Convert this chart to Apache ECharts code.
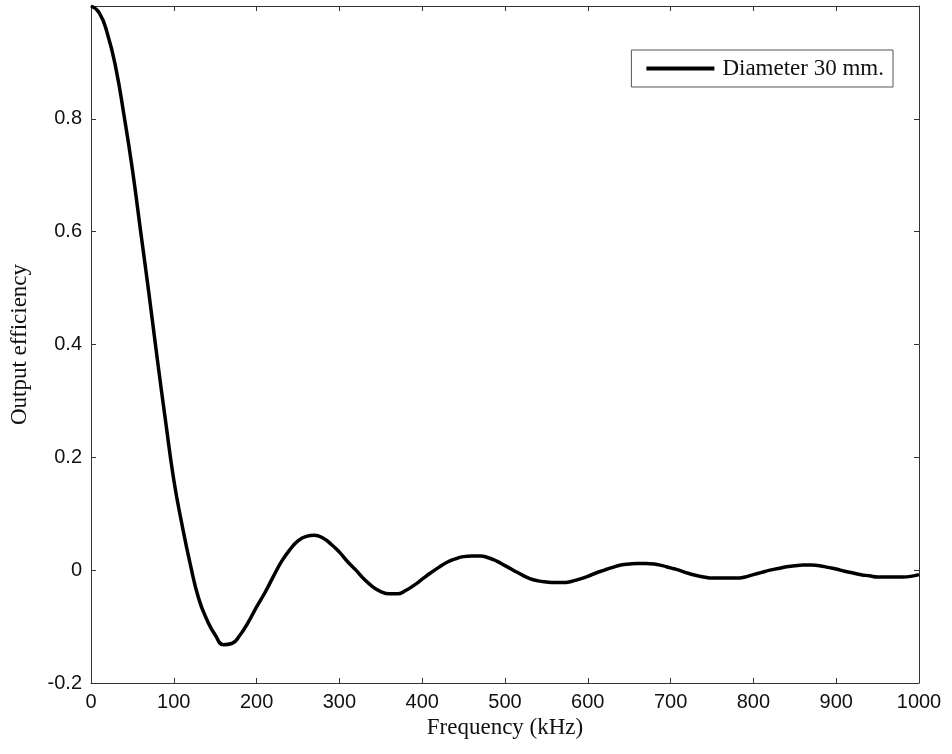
<!DOCTYPE html>
<html>

<head>
  <meta charset="utf-8" />
  <style>
    html, body { margin: 0; padding: 0; background: #fff; }
    #chart { width: 952px; height: 754px; }
  </style>
  <script src="https://cdn.jsdelivr.net/npm/echarts@6/dist/echarts.min.js"></script>
</head>

<body>
  <div id="chart"></div>
  <script type="text/javascript">
    // frequency in kHz, read every 10 kHz
    const freqKHz = [];
    for (let f = 0; f <= 1000; f += 10) freqKHz.push(f);

    const efficiency = [
      1.0, 0.988, 0.95, 0.89, 0.805, 0.71, 0.60, 0.49, 0.375, 0.265,
      0.16, 0.08, 0.01, -0.05, -0.088, -0.115, -0.132, -0.13, -0.115, -0.092,
      -0.065, -0.04, -0.012, 0.015, 0.036, 0.052, 0.06, 0.062, 0.057, 0.046,
      0.032, 0.015, 0.0, -0.016, -0.029, -0.038, -0.042, -0.042, -0.036, -0.027,
      -0.016, -0.005, 0.005, 0.014, 0.02, 0.024, 0.025, 0.025, 0.022, 0.016,
      0.008, 0.0, -0.008, -0.015, -0.019, -0.021, -0.022, -0.022, -0.02, -0.016,
      -0.011, -0.005, 0.0, 0.005, 0.009, 0.011, 0.012, 0.012, 0.011, 0.008,
      0.004, 0.0, -0.005, -0.009, -0.012, -0.014, -0.014, -0.014, -0.014, -0.012,
      -0.008, -0.004, 0.0, 0.003, 0.006, 0.008, 0.009, 0.009, 0.008, 0.005,
      0.002, -0.002, -0.005, -0.008, -0.01, -0.012, -0.012, -0.012, -0.012, -0.011,
      -0.008
    ];

    const seriesName = 'Diameter 30 mm.';
    const xTitle = 'Frequency (kHz)';
    const yTitle = 'Output efficiency';

    const chart = echarts.init(document.getElementById("chart"));

    const axisLine = { show: true, onZero: false, lineStyle: { color: '#333', width: 1 } };
    const tick = { show: true, inside: true, length: 5, lineStyle: { color: '#333' } };
    const labelFont = { fontFamily: 'Liberation Sans, Arial', fontSize: 20, color: '#111' };
    const titleFont = { fontFamily: 'Liberation Serif, Times New Roman', fontSize: 23, color: '#111' };

    var option = {
      animation: false,
      backgroundColor: '#fff',
      grid: { left: 89, right: 33, top: 6, bottom: 71 },
      legend: {
        right: 59,
        top: 50,
        itemWidth: 68,
        itemHeight: 4,
        itemGap: 0,
        padding: [7, 9, 7, 15],
        borderColor: '#555',
        borderWidth: 1,
        icon: 'rect',
        textStyle: Object.assign({ padding: [0, 0, 0, 3] }, titleFont),
        data: [seriesName]
      },
      xAxis: [
        {
          type: 'value',
          min: 0, max: 1000, interval: 100,
          name: xTitle,
          nameLocation: 'middle',
          nameGap: 30,
          nameTextStyle: titleFont,
          axisLine: axisLine,
          axisTick: tick,
          axisLabel: Object.assign({ margin: 9, formatter: v => String(v) }, labelFont),
          splitLine: { show: false }
        },
        {
          type: 'value', position: 'top',
          min: 0, max: 1000, interval: 100,
          axisLine: axisLine,
          axisTick: tick,
          axisLabel: { show: false },
          splitLine: { show: false }
        }
      ],
      yAxis: [
        {
          type: 'value',
          min: -0.2, max: 1.0, interval: 0.2,
          name: yTitle,
          nameLocation: 'middle',
          nameGap: 60,
          nameTextStyle: titleFont,
          axisLine: axisLine,
          axisTick: tick,
          axisLabel: Object.assign({
            margin: 9,
            formatter: v => Math.abs(v - 1) < 1e-9 ? '' : String(Math.round(v * 10) / 10)
          }, labelFont),
          splitLine: { show: false }
        },
        {
          type: 'value', position: 'right',
          min: -0.2, max: 1.0, interval: 0.2,
          axisLine: axisLine,
          axisTick: tick,
          axisLabel: { show: false },
          splitLine: { show: false }
        }
      ],
      series: [
        {
          name: seriesName,
          type: 'line',
          data: freqKHz.map((f, i) => [f, efficiency[i]]),
          smooth: true,
          showSymbol: false,
          color: '#000',
          lineStyle: { color: '#000', width: 3.5 }
        }
      ]
    };

    chart.setOption(option);

    window.onresize = () => {
      chart?.resize();
    };
  </script>
</body>

</html>
